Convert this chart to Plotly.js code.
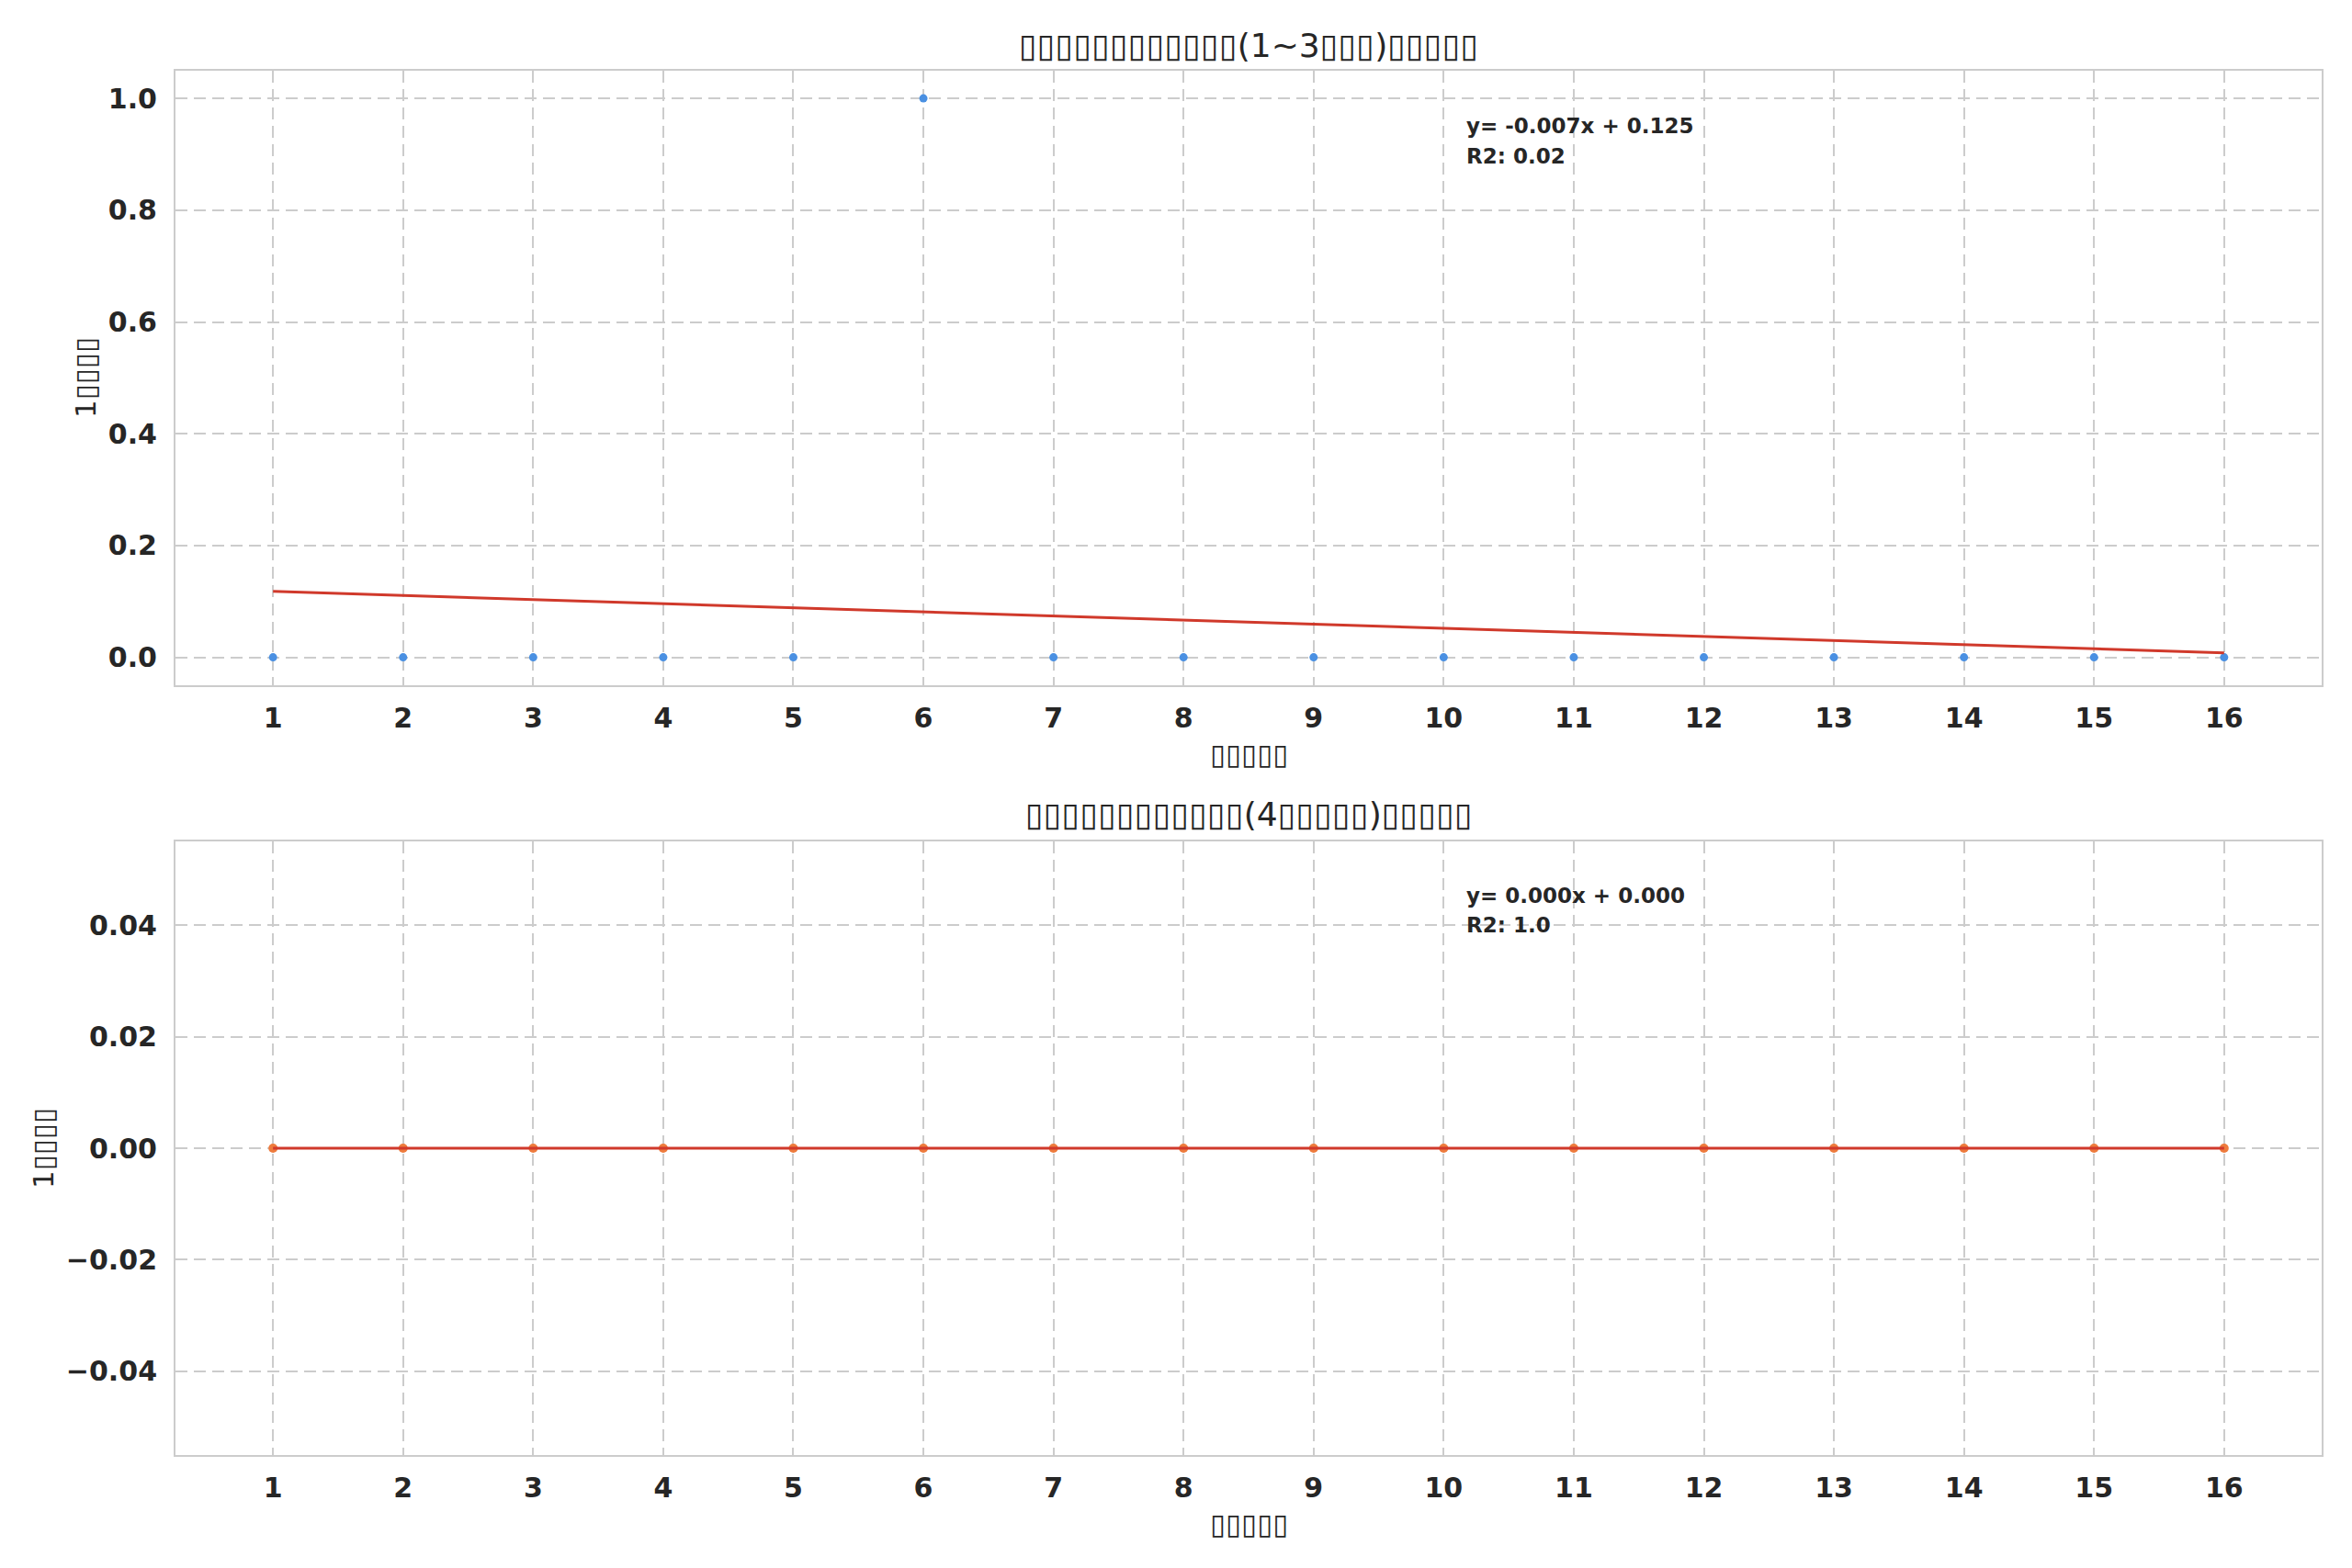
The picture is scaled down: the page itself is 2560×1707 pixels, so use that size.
<!DOCTYPE html>
<html>
<head>
<meta charset="utf-8">
<script src="https://cdn.plot.ly/plotly-3.0.1.min.js"></script>
<style>html,body{margin:0;padding:0;background:#fff;}</style>
</head>
<body>
<div id="chart" style="width:2560px;height:1707px;"></div>
<script>
// ---- data ----
const xValues = [1,2,3,4,5,6,7,8,9,10,11,12,13,14,15,16];
const topValues = [0,0,0,0,0,1,0,0,0,0,0,0,0,0,0,0];
const bottomValues = [0,0,0,0,0,0,0,0,0,0,0,0,0,0,0,0];
const topFitX = [1, 16];
const topFitY = [0.118, 0.008];
const bottomFitX = [1, 16];
const bottomFitY = [0, 0];
const xTickLabels = ["1","2","3","4","5","6","7","8","9","10","11","12","13","14","15","16"];
const topTitle = "▯▯▯▯▯▯▯▯▯▯▯▯(1~3▯▯▯)▯▯▯▯▯";
const bottomTitle = "▯▯▯▯▯▯▯▯▯▯▯▯(4▯▯▯▯▯)▯▯▯▯▯";
const xLabel = "▯▯▯▯▯";
const yLabel = "1▯▯▯▯";
const topEquation = "y= -0.007x + 0.125";
const topR2 = "R2: 0.02";
const bottomEquation = "y= 0.000x + 0.000";
const bottomR2 = "R2: 1.0";

// ---- styles ----
const W = 2560, H = 1707;
const textColor = "#262626";
const gridColor = "#cccccc";
const font = "DejaVu Sans, sans-serif";
const px = v => v / W;
const py = v => 1 - v / H;

const xDomain = [px(191), px(2527)];
const topDomain = [py(746), py(76.7)];
const botDomain = [py(1584), py(916)];
const gridDash = "13px,7px";

function xAxis(anchor) {
  return {
    domain: xDomain, anchor: anchor, range: [0.25, 16.75],
    tickmode: "array", tickvals: xValues, ticktext: xTickLabels,
    showgrid: true, gridcolor: gridColor, gridwidth: 2, griddash: gridDash,
    zeroline: false, showline: true, linecolor: gridColor, linewidth: 2, mirror: true,
    ticks: "", ticklabelstandoff: 8,
    tickfont: {family: font, size: 30, color: textColor, weight: "bold"}
  };
}
function yAxis(anchor, domain, range, dtick, fmt) {
  return {
    domain: domain, anchor: anchor, range: range, dtick: dtick, tick0: 0, tickformat: fmt,
    showgrid: true, gridcolor: gridColor, gridwidth: 2, griddash: gridDash,
    zeroline: false, showline: true, linecolor: gridColor, linewidth: 2, mirror: true,
    ticks: "", ticklabelstandoff: 12,
    tickfont: {family: font, size: 30, color: textColor, weight: "bold"}
  };
}

const traces = [
  {x: xValues, y: topValues, xaxis: "x", yaxis: "y", mode: "markers", type: "scatter",
   marker: {color: "#4a90e2", size: 9}, hoverinfo: "skip"},
  {x: topFitX, y: topFitY, xaxis: "x", yaxis: "y", mode: "lines", type: "scatter",
   line: {color: "#d0392b", width: 3}, hoverinfo: "skip"},
  {x: xValues, y: bottomValues, xaxis: "x2", yaxis: "y2", mode: "markers", type: "scatter",
   marker: {color: "#ee7b3d", size: 10}, hoverinfo: "skip"},
  {x: bottomFitX, y: bottomFitY, xaxis: "x2", yaxis: "y2", mode: "lines", type: "scatter",
   line: {color: "#d0392b", width: 3}, hoverinfo: "skip"}
];

function ann(text, x, y, opts) {
  return Object.assign({text: text, xref: "paper", yref: "paper", x: x, y: y,
    showarrow: false, xanchor: "center", yanchor: "middle",
    font: {family: font, size: 31, color: textColor}}, opts || {});
}
const eqFont = {family: font, size: 23, color: textColor, weight: "bold"};
const titleFont = {family: font, size: 36, color: textColor};

const annotations = [
  ann(topTitle, (xDomain[0] + xDomain[1]) / 2, py(49), {font: titleFont}),
  ann(bottomTitle, (xDomain[0] + xDomain[1]) / 2, py(886), {font: titleFont}),
  ann(xLabel, (xDomain[0] + xDomain[1]) / 2, py(821)),
  ann(xLabel, (xDomain[0] + xDomain[1]) / 2, py(1659)),
  ann(yLabel, px(93), py(411), {textangle: -90}),
  ann(yLabel, px(47), py(1250), {textangle: -90}),
  ann(topEquation, px(1594), py(137), {xanchor: "left", font: eqFont}),
  ann(topR2, px(1594), py(170), {xanchor: "left", font: eqFont}),
  ann(bottomEquation, px(1594), py(975), {xanchor: "left", font: eqFont}),
  ann(bottomR2, px(1594), py(1007), {xanchor: "left", font: eqFont})
];

const layout = {
  width: W, height: H,
  margin: {l: 0, r: 0, t: 0, b: 0},
  paper_bgcolor: "#ffffff", plot_bgcolor: "#ffffff",
  showlegend: false,
  xaxis: xAxis("y"),
  yaxis: yAxis("x", topDomain, [-0.05, 1.05], 0.2, ".1f"),
  xaxis2: xAxis("y2"),
  yaxis2: yAxis("x2", botDomain, [-0.055, 0.055], 0.02, ".2f"),
  annotations: annotations
};

Plotly.newPlot("chart", traces, layout, {displayModeBar: false, staticPlot: true});
</script>
</body>
</html>
